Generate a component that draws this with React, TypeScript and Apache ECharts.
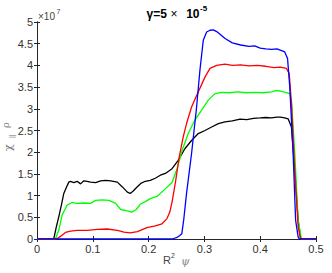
import React, { useEffect, useRef } from "react";
import * as echarts from "echarts";

const xTicks = [0, 0.1, 0.2, 0.3, 0.4, 0.5];
const yTicks = [0, 0.5, 1, 1.5, 2, 2.5, 3, 3.5, 4, 4.5, 5];

const blackX = [0, 0.030, 0.035, 0.039, 0.044, 0.048, 0.053, 0.057, 0.060, 0.066, 0.072, 0.078, 0.084, 0.090, 0.096, 0.105, 0.114, 0.123, 0.132, 0.144, 0.153, 0.162, 0.167, 0.172, 0.178, 0.186, 0.194, 0.203, 0.212, 0.221, 0.23, 0.242, 0.253, 0.265, 0.277, 0.289, 0.301, 0.313, 0.325, 0.337, 0.35, 0.364, 0.376, 0.388, 0.40, 0.41, 0.42, 0.43, 0.436, 0.444, 0.45, 0.456, 0.462, 0.468, 0.4725, 0.5];
const blackY = [0, 0, 0.3, 0.51, 0.8, 1.05, 1.2, 1.31, 1.33, 1.3, 1.33, 1.27, 1.34, 1.33, 1.31, 1.3, 1.34, 1.35, 1.34, 1.31, 1.2, 1.08, 1.05, 1.1, 1.18, 1.28, 1.33, 1.35, 1.4, 1.47, 1.51, 1.62, 1.81, 2.08, 2.27, 2.43, 2.5, 2.58, 2.66, 2.7, 2.72, 2.76, 2.75, 2.78, 2.79, 2.8, 2.79, 2.81, 2.81, 2.79, 2.77, 2.58, 1.58, 0.43, 0, 0];

const greenX = [0, 0.033, 0.039, 0.045, 0.05, 0.054, 0.063, 0.072, 0.084, 0.096, 0.105, 0.117, 0.129, 0.141, 0.15, 0.162, 0.17, 0.178, 0.185, 0.194, 0.203, 0.215, 0.227, 0.242, 0.251, 0.26, 0.271, 0.283, 0.295, 0.307, 0.319, 0.331, 0.345, 0.36, 0.375, 0.39, 0.405, 0.42, 0.428, 0.436, 0.445, 0.453, 0.456, 0.462, 0.468, 0.474, 0.5];
const greenY = [0, 0, 0.2, 0.55, 0.68, 0.78, 0.84, 0.82, 0.83, 0.82, 0.89, 0.9, 0.89, 0.82, 0.68, 0.65, 0.62, 0.68, 0.8, 0.86, 0.93, 0.98, 1.12, 1.3, 1.62, 2.04, 2.43, 2.74, 2.97, 3.2, 3.35, 3.38, 3.37, 3.39, 3.37, 3.38, 3.37, 3.39, 3.42, 3.41, 3.38, 3.35, 3.2, 1.97, 0.43, 0, 0];

const redX = [0, 0.035, 0.042, 0.051, 0.06, 0.072, 0.09, 0.108, 0.126, 0.144, 0.156, 0.167, 0.18, 0.197, 0.212, 0.224, 0.233, 0.238, 0.242, 0.248, 0.255, 0.262, 0.268, 0.277, 0.289, 0.301, 0.31, 0.322, 0.337, 0.35, 0.365, 0.38, 0.395, 0.41, 0.425, 0.436, 0.447, 0.452, 0.456, 0.462, 0.468, 0.4725, 0.5];
const redY = [0, 0, 0.06, 0.15, 0.18, 0.2, 0.2, 0.22, 0.23, 0.2, 0.16, 0.14, 0.17, 0.26, 0.3, 0.35, 0.47, 0.62, 0.85, 1.3, 1.9, 2.35, 2.66, 3.04, 3.39, 3.73, 3.93, 4.0, 4.03, 4.0, 4.01, 3.99, 4.0, 3.98, 3.95, 3.96, 3.93, 3.81, 3.12, 1.58, 0.28, 0, 0];

const blueX = [0, 0.242, 0.25, 0.256, 0.2595, 0.263, 0.268, 0.277, 0.286, 0.292, 0.298, 0.304, 0.31, 0.316, 0.322, 0.328, 0.337, 0.35, 0.365, 0.38, 0.39, 0.4, 0.41, 0.42, 0.43, 0.436, 0.444, 0.449, 0.453, 0.459, 0.4635, 0.468, 0.47, 0.5];
const blueY = [0, 0, 0.03, 0.08, 0.12, 0.45, 1.05, 1.97, 3.04, 3.89, 4.58, 4.77, 4.81, 4.82, 4.78, 4.72, 4.62, 4.52, 4.47, 4.44, 4.45, 4.4, 4.38, 4.37, 4.38, 4.35, 4.31, 4.16, 3.5, 1.97, 0.43, 0.05, 0, 0];

const FONT = "'Liberation Sans', Arial, Helvetica, sans-serif";
const AX = "#262626";

function zip(xs: number[], ys: number[]) {
  return xs.map((x, i) => [x, ys[i]]);
}

export default function App() {
  const ref = useRef<HTMLDivElement>(null);
  useEffect(() => {
    document.body.style.margin = "0";
    const chart = echarts.init(ref.current!, null, { renderer: "svg" });
    const lineSeries = (name: string, xs: number[], ys: number[], color: string) => ({
      name,
      type: "line",
      data: zip(xs, ys),
      showSymbol: false,
      symbol: "none",
      xAxisIndex: 0,
      yAxisIndex: 0,
      lineStyle: { color, width: 1.3 },
      itemStyle: { color },
    });
    const baseAxis = {
      type: "value",
      axisLine: { show: true, lineStyle: { color: AX, width: 1 } },
      axisTick: { show: true, inside: true, length: 3, lineStyle: { color: AX } },
      splitLine: { show: false },
    };
    const fmt = (v: number) => String(Math.round(v * 10) / 10);
    chart.setOption({
      animation: false,
      textStyle: { fontFamily: FONT },
      grid: { left: 37, right: 16, top: 22, bottom: 34 },
      xAxis: [
        {
          ...baseAxis,
          position: "bottom",
          min: xTicks[0],
          max: xTicks[xTicks.length - 1],
          interval: 0.1,
          axisLabel: { color: "#333", fontSize: 11, margin: 4, fontFamily: FONT, formatter: fmt },
        },
        {
          ...baseAxis,
          position: "top",
          min: xTicks[0],
          max: xTicks[xTicks.length - 1],
          interval: 0.1,
          axisLabel: { show: false },
        },
      ],
      yAxis: [
        {
          ...baseAxis,
          position: "left",
          min: yTicks[0],
          max: yTicks[yTicks.length - 1],
          interval: 0.5,
          axisLabel: { color: "#333", fontSize: 11, margin: 4, fontFamily: FONT, formatter: fmt },
        },
        {
          ...baseAxis,
          position: "right",
          min: yTicks[0],
          max: yTicks[yTicks.length - 1],
          interval: 0.5,
          axisLabel: { show: false },
        },
      ],
      series: [
        lineSeries("black", blackX, blackY, "#000000"),
        lineSeries("green", greenX, greenY, "#00ff00"),
        lineSeries("red", redX, redY, "#ff0000"),
        lineSeries("blue", blueX, blueY, "#0000ff"),
      ],
      graphic: [
        { type: "text", x: 146.5, y: 13.5, style: { text: "γ=5", font: `bold 12px ${FONT}`, fill: "#000", align: "left", verticalAlign: "middle" } },
        { type: "text", x: 174, y: 13.5, style: { text: "×", font: `12px ${FONT}`, fill: "#000", align: "center", verticalAlign: "middle" } },
        { type: "text", x: 199.5, y: 13.5, style: { text: "10", font: `bold 12px ${FONT}`, fill: "#000", align: "right", verticalAlign: "middle" } },
        { type: "text", x: 200, y: 8, style: { text: "-5", font: `bold 8px ${FONT}`, fill: "#000", align: "left", verticalAlign: "middle" } },
        { type: "text", x: 38, y: 16, style: { text: "×10", font: `10px ${FONT}`, fill: "#444", align: "left", verticalAlign: "middle" } },
        { type: "text", x: 56.5, y: 11.5, style: { text: "7", font: `7px ${FONT}`, fill: "#444", align: "left", verticalAlign: "middle" } },
        { type: "text", x: 163, y: 259.5, style: { text: "R", font: `11px ${FONT}`, fill: "#444", align: "left", verticalAlign: "middle" } },
        { type: "text", x: 171, y: 255.5, style: { text: "2", font: `7px ${FONT}`, fill: "#444", align: "left", verticalAlign: "middle" } },
        { type: "text", x: 181, y: 261, style: { text: "ψ", font: `italic 11px 'DejaVu Serif', serif`, fill: "#888", align: "left", verticalAlign: "middle" } },
        { type: "text", x: 8.5, y: 151, rotation: Math.PI / 2, style: { text: "χ", font: `11px 'DejaVu Serif', serif`, fill: "#777", align: "left", verticalAlign: "middle" } },
        { type: "text", x: 11.5, y: 138, rotation: Math.PI / 2, style: { text: "||", font: `7px ${FONT}`, fill: "#777", align: "left", verticalAlign: "middle" } },
        { type: "text", x: 5, y: 128, rotation: Math.PI / 2, style: { text: "ρ", font: `10px 'DejaVu Serif', serif`, fill: "#888", align: "left", verticalAlign: "middle" } },
      ],
    });
    return () => chart.dispose();
  }, []);
  return <div ref={ref} style={{ width: 332, height: 273 }} />;
}
